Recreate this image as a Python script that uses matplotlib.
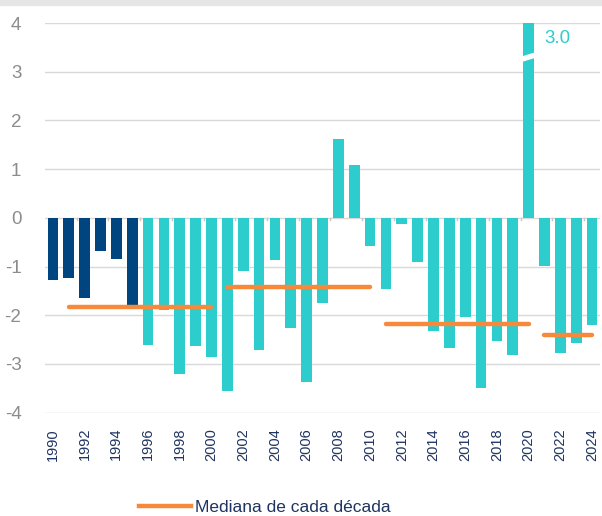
import matplotlib
matplotlib.use("Agg")
import matplotlib.pyplot as plt
from matplotlib.patches import Rectangle, Polygon
from matplotlib.lines import Line2D
import numpy as np

plt.rcParams['font.family'] = ['Liberation Sans', 'DejaVu Sans']

# ---------------- data ----------------
years = list(range(1990, 2025))
values = [-1.27, -1.23, -1.64, -0.69, -0.84, -1.79,          # 1990-1995
          -2.60, -1.89, -3.20, -2.63, -2.86,                 # 1996-2000
          -3.55, -1.09, -2.72, -0.86, -2.27, -3.37, -1.75,   # 2001-2007
          1.62, 1.09, -0.58,                                 # 2008-2010
          -1.46, -0.12, -0.90, -2.33, -2.67, -2.03, -3.49,   # 2011-2017
          -2.53, -2.81, 4.0,                                 # 2018-2020 (2020 clipped)
          -0.99, -2.78, -2.57, -2.20]                        # 2021-2024
outlier_year = 2020
outlier_label = "3.0"
dark_until = 1995

decade_start = [1991, 2001, 2011, 2021]
decade_end = [2000, 2010, 2020, 2024]
decade_median = [-1.82, -1.42, -2.17, -2.40]

yticks = [-4, -3, -2, -1, 0, 1, 2, 3, 4]
xtick_years = list(range(1990, 2025, 2))
legend_label = "Mediana de cada década"

# ---------------- style ----------------
navy = "#00457F"
aqua = "#2DCCCD"
orange = "#F7893B"
grid_c = "#D9D9D9"
ytext_c = "#8C8C8C"
xtext_c = "#1F3460"

fig = plt.figure(figsize=(6.02, 5.16), dpi=100)
fig.patches.append(Rectangle((0, 1 - 5 / 516), 1, 5 / 516, transform=fig.transFigure,
                             color="#E6E6E6", zorder=0))
ax = fig.add_axes([45 / 602, 1 - 412.7 / 516, 555 / 602, (412.7 - 23) / 516])

colors = [navy if y <= dark_until else aqua for y in years]
ax.bar(years, values, width=0.67, color=colors, zorder=3, clip_on=True)

ax.set_ylim(-4, 4)
ax.set_xlim(1989.5, 2024.5)
ax.set_yticks(yticks)
ax.set_yticklabels([str(t) for t in yticks])
ax.set_xticks(xtick_years)
ax.set_xticklabels([str(y) for y in xtick_years], rotation=90)
ax.tick_params(axis='y', length=0, pad=17, labelsize=13.5, labelcolor=ytext_c)
ax.tick_params(axis='x', length=0, pad=11, labelsize=10.5, labelcolor=xtext_c)
for s in ax.spines.values():
    s.set_visible(False)
ax.yaxis.grid(True, color=grid_c, lw=1.0, zorder=0)
ax.set_axisbelow(True)

# small category boundary ticks on the zero line
for b in np.arange(years[0] + 1.5, years[-1], 2):
    ax.plot([b, b], [0, -0.05], color="#C8C8C8", lw=1.0, zorder=2)

# axis break on the outlier bar
bx = outlier_year
y0, slope, th, hw = 3.3, 0.1, 0.085, 0.55
poly = Polygon([(bx - hw, y0 - slope * hw - th / 2), (bx + hw, y0 + slope * hw - th / 2),
                (bx + hw, y0 + slope * hw + th / 2), (bx - hw, y0 - slope * hw + th / 2)],
               closed=True, color="white", zorder=4)
ax.add_patch(poly)
ax.text(bx + 1.0, 3.68, outlier_label, color=aqua, fontsize=13.5, va="center", ha="left", zorder=5)

# decade medians
for s, e, m in zip(decade_start, decade_end, decade_median):
    ax.plot([s, e], [m, m], color=orange, lw=3.2, solid_capstyle="round", zorder=5)

handle = Line2D([], [], color=orange, lw=3.2)
fig.legend([handle], [legend_label], loc="center", bbox_to_anchor=(0.44, 0.016),
           frameon=False, fontsize=12.5, handlelength=3.0, handletextpad=0.2,
           labelcolor=xtext_c)

fig.savefig("out.png", dpi=100)
